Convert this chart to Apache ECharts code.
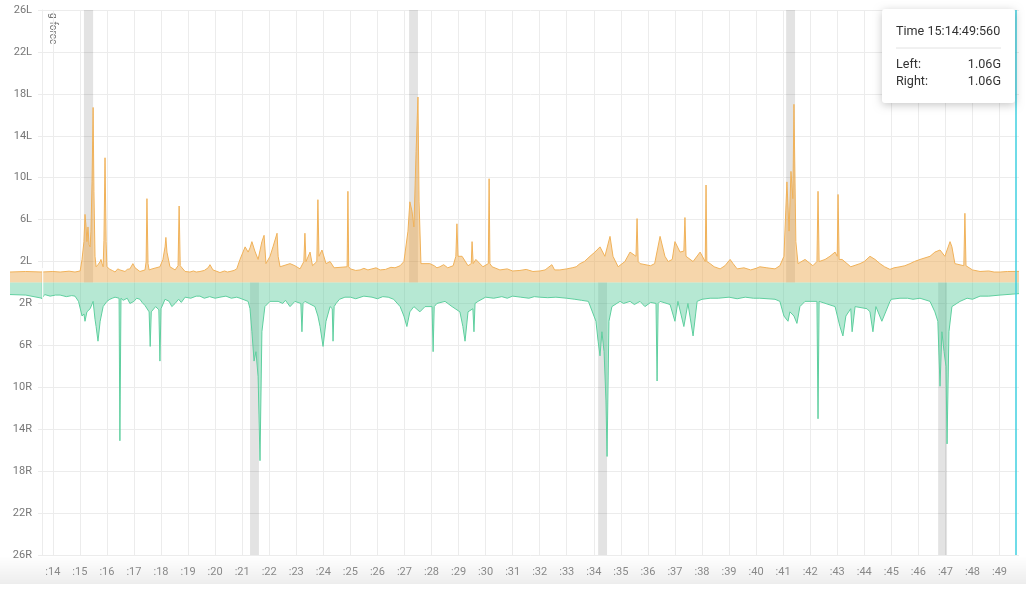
<!DOCTYPE html>
<html>
<head>
<meta charset="utf-8">
<script src="https://cdn.jsdelivr.net/npm/echarts@6/dist/echarts.min.js"></script>
<style>html,body{margin:0;padding:0;background:#fff;}#c{width:1026px;height:589px;}</style>
</head>
<body>
<div id="c"></div>
<script>
// [seconds, g-force] — Left wheel (drawn upward)
const leftData = [
[12.42,1.0],[13.0,1.05],[13.6,1.0],[14.0,1.05],[14.27,1.0],[14.6,1.08],[14.82,1.0],[15.01,1.1],[15.08,2.2],[15.15,3.9],
[15.19,6.5],[15.23,5.3],[15.26,3.9],[15.30,5.3],[15.34,3.6],[15.38,3.4],[15.41,4.9],[15.45,9.6],[15.49,16.7],[15.52,8.7],
[15.56,2.5],[15.60,1.5],[15.67,1.7],[15.75,2.0],[15.78,2.2],[15.82,1.8],[15.86,1.5],[15.89,4.0],[15.93,11.9],[15.97,3.9],
[16.00,1.5],[16.11,1.25],[16.30,1.0],[16.48,1.2],[16.67,1.05],[16.85,1.3],[16.96,1.8],[17.04,1.4],[17.22,1.05],[17.41,1.2],
[17.45,2.0],[17.48,8.0],[17.52,1.8],[17.56,1.2],[17.67,1.3],[17.96,1.5],[18.07,2.2],[18.15,3.4],[18.18,4.3],[18.22,2.9],
[18.33,1.5],[18.52,1.2],[18.63,1.6],[18.67,7.3],[18.71,1.6],[18.74,1.45],[18.89,1.05],[19.07,1.0],[19.44,1.05],[19.74,1.4],
[19.81,1.7],[19.92,1.2],[20.18,0.95],[20.55,1.05],[20.80,1.3],[20.92,2.2],[21.11,3.4],[21.22,2.9],[21.29,3.3],[21.36,3.9],
[21.47,3.0],[21.59,2.2],[21.73,3.9],[21.81,4.5],[21.88,1.8],[22.03,2.5],[22.14,3.4],[22.29,4.7],[22.33,2.5],[22.40,1.5],
[22.77,1.8],[22.95,1.6],[23.14,1.3],[23.28,2.0],[23.32,4.7],[23.36,2.0],[23.51,2.9],[23.60,1.6],[23.76,2.0],[23.80,7.9],
[23.84,2.5],[23.95,3.1],[24.10,1.8],[24.25,2.0],[24.40,1.4],[24.88,1.5],[24.91,8.7],[24.94,1.5],[25.36,1.2],[25.80,1.3],
[26.10,1.2],[26.65,1.4],[26.84,1.6],[26.98,2.0],[27.02,2.0],[27.13,4.9],[27.20,7.7],[27.28,6.8],[27.35,5.3],[27.43,12.5],
[27.50,17.7],[27.54,7.7],[27.61,1.8],[27.94,1.8],[28.31,1.5],[28.80,1.6],[28.90,2.5],[28.94,5.6],[28.98,2.5],[29.13,2.5],
[29.35,1.6],[29.47,1.8],[29.50,3.9],[29.54,1.8],[29.64,2.2],[29.90,1.5],[30.10,1.8],[30.13,9.9],[30.16,1.8],[30.24,1.5],
[30.53,1.2],[31.27,1.15],[32.01,1.1],[32.45,1.7],[32.55,1.2],[32.75,1.2],[33.20,1.4],[33.49,1.8],[33.86,2.5],[34.04,2.9],
[34.23,3.4],[34.41,2.5],[34.60,4.4],[34.71,2.5],[34.90,1.5],[35.15,2.0],[35.34,2.9],[35.56,2.5],[35.60,6.1],[35.64,2.0],
[35.71,1.8],[36.10,1.6],[36.45,4.4],[36.63,2.5],[36.90,2.2],[37.00,3.9],[37.19,2.9],[37.33,3.0],[37.37,6.2],[37.41,2.5],
[37.67,2.0],[37.93,2.9],[38.12,2.0],[38.15,9.3],[38.18,2.0],[38.30,1.8],[38.67,1.3],[39.04,2.2],[39.30,1.3],[40.14,1.5],
[40.70,1.3],[40.88,1.6],[41.03,2.5],[41.14,9.6],[41.22,4.9],[41.29,10.6],[41.36,8.0],[41.40,17.0],[41.47,3.9],[41.55,1.8],
[41.81,2.2],[42.10,1.6],[42.25,2.0],[42.29,8.7],[42.33,2.0],[42.55,2.2],[42.73,2.5],[42.92,2.9],[43.00,2.5],[43.03,8.4],
[43.07,2.2],[43.18,2.2],[43.50,1.5],[43.84,1.8],[44.21,2.5],[44.58,1.8],[44.95,1.25],[45.32,1.5],[45.69,1.8],[46.06,2.2],
[46.43,2.5],[46.61,2.9],[46.80,3.1],[46.98,2.5],[47.17,3.9],[47.24,3.4],[47.35,1.8],[47.68,1.6],[47.72,6.6],[47.76,1.6],
[47.83,1.5],[48.28,1.05],[49.02,1.0],[49.72,1.06],
// small ripples on the resting level
[16.20,1.15],[16.40,1.3],[16.55,1.1],[16.75,1.25],[19.20,1.1],[19.30,1.0],[19.60,1.15],[20.35,1.1],[20.45,1.0],[20.70,1.15],
[25.00,1.3],[25.20,1.15],[25.50,1.35],[25.65,1.2],[25.95,1.4],[26.30,1.25],[26.50,1.45],[28.10,1.6],[28.20,1.4],[28.45,1.7],
[28.60,1.4],[30.80,1.3],[31.00,1.1],[31.50,1.25],[31.75,1.05],[32.20,1.2],[33.00,1.3],[33.35,1.5],[33.65,2.0],[36.25,1.8],
[36.75,2.0],[38.45,1.5],[38.85,1.6],[39.15,1.8],[39.55,1.4],[39.80,1.2],[40.00,1.35],[40.40,1.4],[44.00,2.0],[44.40,2.2],
[44.75,1.5],[45.10,1.4],[45.50,1.6],[45.85,2.0],[48.00,1.2],[48.60,1.1],[48.80,1.0],[49.30,1.05]
];
// [seconds, g-force] — Right wheel (drawn downward)
const rightData = [
[12.42,1.15],[13.0,1.2],[13.6,1.5],[13.7,1.15],[14.27,1.2],[14.82,1.3],[14.95,1.8],[15.08,3.2],[15.15,3.0],[15.19,3.7],
[15.26,2.8],[15.38,2.5],[15.49,1.8],[15.56,3.5],[15.60,4.2],[15.67,5.6],[15.75,3.7],[15.86,2.3],[16.00,1.8],[16.11,1.6],
[16.30,1.4],[16.45,1.5],[16.48,15.1],[16.52,1.5],[16.67,1.6],[16.85,2.0],[17.22,1.6],[17.41,2.2],[17.56,2.8],[17.60,6.1],
[17.64,2.8],[17.80,2.3],[17.92,2.6],[17.96,7.5],[18.00,2.5],[18.15,1.6],[18.52,2.0],[18.89,1.4],[19.44,1.3],[20.18,1.4],
[20.92,1.5],[21.22,1.8],[21.29,2.5],[21.36,4.7],[21.44,7.5],[21.51,6.6],[21.59,9.0],[21.66,17.0],[21.73,4.7],[21.84,2.3],
[22.03,1.8],[22.33,1.8],[22.77,2.3],[22.95,1.8],[23.17,2.0],[23.21,4.7],[23.25,2.0],[23.32,1.8],[23.69,2.3],[23.80,3.2],
[23.88,4.2],[23.99,6.1],[24.10,3.7],[24.25,2.3],[24.33,2.5],[24.36,5.6],[24.40,2.3],[24.47,2.0],[24.80,1.4],[25.50,1.3],
[26.40,1.4],[26.84,2.3],[26.98,3.2],[27.09,4.2],[27.20,2.8],[27.35,2.3],[27.57,2.8],[27.76,2.3],[28.02,2.3],[28.06,6.6],
[28.10,2.3],[28.20,2.0],[28.50,1.8],[28.76,2.3],[29.05,2.8],[29.16,4.2],[29.24,5.6],[29.35,2.8],[29.53,2.5],[29.57,4.7],
[29.61,2.0],[29.72,1.8],[30.00,1.4],[31.00,1.3],[32.00,1.4],[33.00,1.5],[33.80,1.8],[34.08,3.7],[34.16,5.6],[34.23,7.0],
[34.30,4.7],[34.38,6.6],[34.45,11.3],[34.49,16.6],[34.56,3.7],[34.67,2.3],[34.97,1.8],[35.34,1.8],[35.71,1.8],[35.89,2.3],
[36.30,2.0],[36.34,9.4],[36.38,2.0],[36.45,1.8],[36.82,2.1],[37.00,3.7],[37.11,1.8],[37.33,4.2],[37.48,2.0],[37.67,5.1],
[37.82,1.8],[38.30,1.5],[39.00,1.4],[40.14,1.5],[40.70,1.6],[40.88,1.8],[41.03,3.2],[41.18,3.7],[41.25,2.8],[41.40,3.2],
[41.51,3.9],[41.62,2.3],[41.81,1.8],[42.25,1.8],[42.29,13.0],[42.33,1.8],[42.40,1.8],[42.92,2.3],[43.10,4.2],[43.21,5.1],
[43.32,3.2],[43.50,2.5],[43.55,4.7],[43.66,2.3],[44.10,2.5],[44.21,2.8],[44.32,4.7],[44.43,2.3],[44.65,3.7],[44.95,1.8],
[45.32,1.5],[46.06,1.5],[46.43,1.8],[46.61,2.8],[46.72,3.7],[46.80,9.9],[46.87,4.7],[46.95,6.6],[47.02,8.0],[47.06,15.4],
[47.13,4.7],[47.24,2.3],[47.54,1.8],[48.28,1.3],[49.02,1.2],[49.72,1.06],
// small ripples on the resting level
[13.90,1.3],[14.10,1.2],[14.50,1.35],[14.70,1.25],[16.20,1.5],[16.60,1.7],[16.75,1.5],[17.00,1.8],[17.10,1.5],[17.30,1.9],
[18.30,1.8],[18.40,2.3],[18.65,1.6],[18.75,1.9],[19.10,1.5],[19.30,1.3],[19.60,1.5],[19.80,1.35],[20.00,1.5],[20.40,1.3],
[20.60,1.5],[20.80,1.4],[22.50,2.0],[22.60,1.7],[24.60,1.6],[25.00,1.4],[25.20,1.55],[25.80,1.4],[26.00,1.55],[26.20,1.35],
[26.60,1.6],[30.30,1.5],[30.60,1.35],[30.80,1.5],[31.30,1.4],[31.60,1.5],[31.80,1.35],[32.30,1.45],[32.60,1.4],[33.30,1.6],
[33.55,1.7],[35.10,2.0],[35.50,2.1],[36.10,1.9],[38.00,1.6],[38.60,1.5],[39.30,1.55],[39.60,1.4],[39.90,1.5],[45.00,1.6],
[45.60,1.5],[45.80,1.6],[47.80,1.5],[48.00,1.6],[48.60,1.3]
];
const secondTicks = [14,15,16,17,18,19,20,21,22,23,24,25,26,27,28,29,30,31,32,33,34,35,36,37,38,39,40,41,42,43,44,45,46,47,48,49];
const leftPeaks = [[15.15,15.49],[27.17,27.50],[41.11,41.44]];
const rightPeaks = [[21.29,21.62],[34.16,34.49],[46.73,47.06]];
const viewStart = 13.6;   // left edge of the labelled grid
const dataStart = 12.42;  // first sample (drawn under the axis labels)
const viewEnd = 49.72;
const cursorTime = 49.6;
const tipTime = 'Time 15:14:49:560';
const tipLeft = '1.06G';
const tipRight = '1.06G';

const byTime = (a,b)=>a[0]-b[0];
const leftSorted = leftData.slice().sort(byTime);
const rightNeg = rightData.slice().sort(byTime).map(d=>[d[0],-d[1]]);

const chart = echarts.init(document.getElementById('c'), null, {renderer:'canvas'});
const gridColor = '#ececec';
const font = 'Roboto';
const orangeLine = '#f0b25a', orangeArea = 'rgba(235,165,70,0.65)';
const greenLine = '#5fcf9f', greenArea = 'rgba(80,200,150,0.6)';
const Z = 100;
chart.setOption({
  animation:false,
  textStyle:{fontFamily:font},
  grid:[
    {left:42,right:7,top:10,bottom:34,containLabel:false},
    {left:10,width:32,top:10,bottom:34,containLabel:false}
  ],
  xAxis:[{
    type:'value', min:viewStart, max:viewEnd,
    axisLine:{show:false},
    axisTick:{show:false, customValues:secondTicks},
    axisLabel:{customValues:secondTicks, formatter:v=>':'+v, color:'#888', fontSize:11, margin:12, fontFamily:font},
    splitLine:{show:true, lineStyle:{color:gridColor, width:1}}
  },{
    gridIndex:1, type:'value', min:dataStart, max:viewStart, show:false
  }],
  yAxis:[{
    type:'value', min:-26, max:26, interval:4,
    axisLine:{show:true, lineStyle:{color:gridColor}},
    axisTick:{show:true, length:4, lineStyle:{color:gridColor}},
    axisLabel:{formatter:v=> v>0 ? v+'L' : Math.abs(v)+'R', color:'#777', fontSize:11, margin:10, fontFamily:font},
    splitLine:{show:true, lineStyle:{color:gridColor, width:1}}
  },{
    gridIndex:1, type:'value', min:-26, max:26, show:false
  }],
  series:[
    {
      name:'Left', type:'line', data:leftSorted, showSymbol:false, symbol:'none',
      lineStyle:{color:orangeLine, width:1},
      areaStyle:{color:orangeArea},
      markArea:{silent:true, itemStyle:{color:'rgba(0,0,0,0.11)'},
        data:leftPeaks.map(p=>[{xAxis:p[0], yAxis:0},{xAxis:p[1], yAxis:26}])}
    },
    {
      name:'Right', type:'line', data:rightNeg, showSymbol:false, symbol:'none',
      lineStyle:{color:greenLine, width:1},
      areaStyle:{color:greenArea},
      markArea:{silent:true, itemStyle:{color:'rgba(0,0,0,0.11)'},
        data:rightPeaks.map(p=>[{xAxis:p[0], yAxis:0},{xAxis:p[1], yAxis:-26}])},
      markLine:{silent:true, symbol:['none','none'], label:{show:false},
        lineStyle:{color:'#3fd0e0', width:1.5, type:'solid'},
        data:[{xAxis:cursorTime}]}
    },
    {
      name:'LeftHead', type:'line', xAxisIndex:1, yAxisIndex:1,
      data:leftSorted.filter(d=>d[0]<=viewStart), showSymbol:false, symbol:'none',
      lineStyle:{color:orangeLine, width:1}, areaStyle:{color:orangeArea}
    },
    {
      name:'RightHead', type:'line', xAxisIndex:1, yAxisIndex:1,
      data:rightNeg.filter(d=>d[0]<=viewStart), showSymbol:false, symbol:'none',
      lineStyle:{color:greenLine, width:1}, areaStyle:{color:greenArea}
    }
  ],
  graphic:[
    {type:'rect', z:-1, left:0, top:556, shape:{width:1026, height:28},
      style:{fill:new echarts.graphic.LinearGradient(0,0,0,1,[{offset:0,color:'rgba(0,0,0,0)'},{offset:1,color:'rgba(0,0,0,0.07)'}])}},
    {type:'line', z:50, shape:{x1:42.5,y1:268,x2:42.5,y2:298}, style:{stroke:'rgba(255,255,255,0.85)', lineWidth:1.5}},
    {type:'text', x:57, y:13, rotation:-Math.PI/2,
      style:{text:'g-force', fill:'#777', font:'10px Roboto', textAlign:'left', textVerticalAlign:'top'}},
    {type:'rect', z:Z, x:882, y:9, shape:{x:0,y:0,width:133,height:94,r:3},
      style:{fill:'#fff', shadowBlur:8, shadowColor:'rgba(0,0,0,0.22)', shadowOffsetY:2}},
    {type:'text', z:Z+1, x:896, y:32, style:{text:tipTime, fill:'#333', font:'12.6px Roboto', textVerticalAlign:'middle'}},
    {type:'line', z:Z+1, shape:{x1:896,y1:48,x2:1001,y2:48}, style:{stroke:'#e2e2e2', lineWidth:1}},
    {type:'text', z:Z+1, x:896, y:65, style:{text:'Left:', fill:'#333', font:'12.6px Roboto', textVerticalAlign:'middle'}},
    {type:'text', z:Z+1, x:1001, y:65, style:{text:tipLeft, fill:'#333', font:'12.6px Roboto', textAlign:'right', textVerticalAlign:'middle'}},
    {type:'text', z:Z+1, x:896, y:82, style:{text:'Right:', fill:'#333', font:'12.6px Roboto', textVerticalAlign:'middle'}},
    {type:'text', z:Z+1, x:1001, y:82, style:{text:tipRight, fill:'#333', font:'12.6px Roboto', textAlign:'right', textVerticalAlign:'middle'}}
  ]
});
</script>
</body>
</html>
